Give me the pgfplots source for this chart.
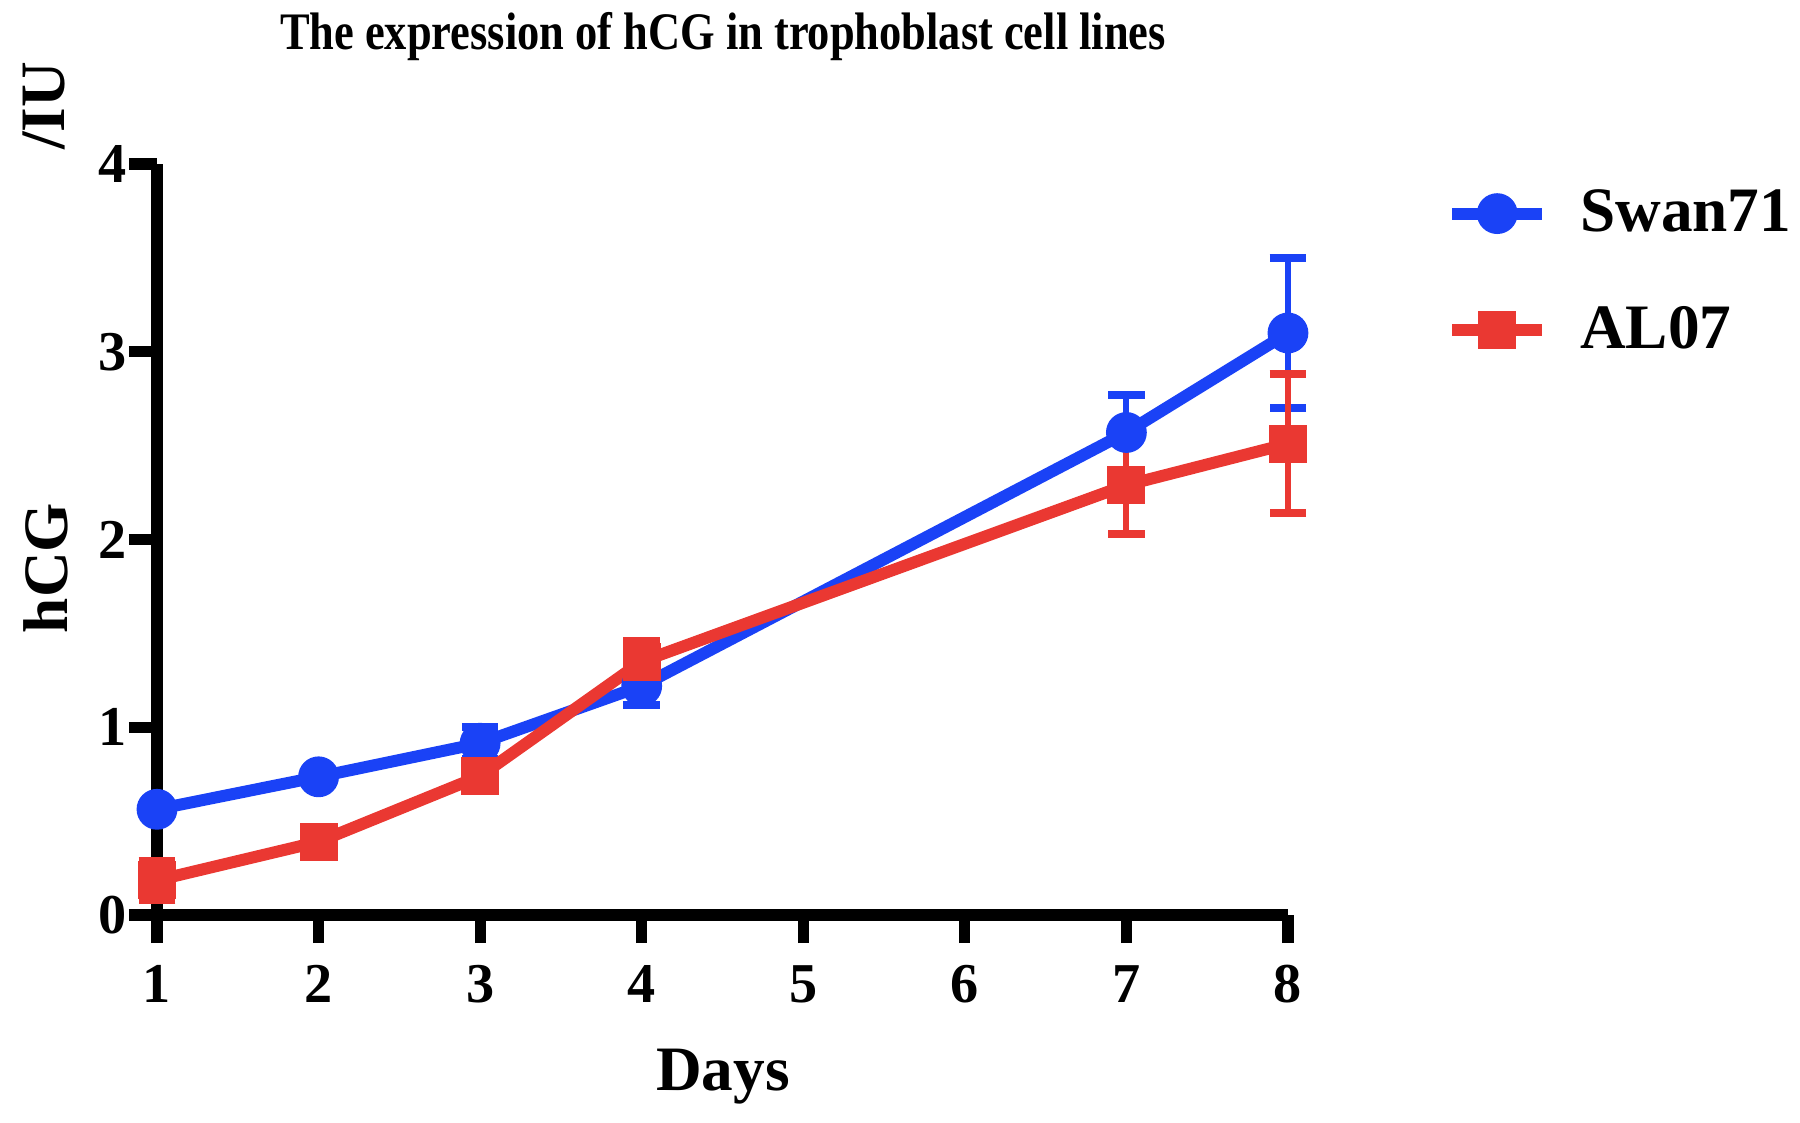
\documentclass[border=0pt]{standalone}
\usepackage{pgfplots}
\pgfplotsset{compat=1.18}
\usepackage{fontspec}
\setmainfont{Liberation Serif}
\usepackage{graphicx}
\definecolor{cblue}{RGB}{26,66,246}
\definecolor{cred}{RGB}{234,56,50}
\begin{document}
\begin{tikzpicture}
\path[use as bounding box] (-1.57cm,-2.07cm) rectangle (16.43cm,9.15cm);
\begin{axis}[
  scale only axis,
  width=11.31cm, height=7.51cm,
  xmin=1, xmax=8, ymin=0, ymax=4,
  axis x line*=bottom, axis y line*=left,
  axis line style={line width=3.2pt, -},
  xtick={1,2,3,4,5,6,7,8},
  ytick={0,1,2,3,4},
  tick style={line width=3.2pt, black},
  tick align=outside,
  major tick length=2.8mm,
  /pgf/number format/assume math mode=true,
  tick label style={font=\bfseries\fontsize{16}{16}\selectfont},
  xticklabel style={yshift=-1mm},
  yticklabel style={xshift=1mm},
  clip=false,
  legend style={at={(1.13,0.985)}, anchor=north west, draw=none, fill=none,
    font=\bfseries\fontsize{18}{18}\selectfont, row sep=5.5mm,
    /tikz/every odd column/.append style={column sep=2.5mm}},
  legend cell align=left,
  legend image code/.code={\draw[mark repeat=2,mark phase=2] plot coordinates {(0cm,0cm) (0.45cm,0cm) (0.9cm,0cm)};},
]
\addplot[cblue, line width=3.4pt, mark=*, mark size=4.1pt,
  mark options={solid},
  error bars/.cd, y dir=both, y explicit,
  error bar style={line width=1.7pt, cblue},
  error mark options={rotate=90, line width=2.3pt, mark size=5.2pt, cblue}]
  coordinates {
  (1,0.563) +- (0,0.015)
  (2,0.736) +- (0,0.015)
  (3,0.915) +- (0,0.085)
  (4,1.22) +- (0,0.10)
  (7,2.57) +- (0,0.20)
  (8,3.10) +- (0,0.40)
  };
\addplot[cred, line width=3.4pt, mark=square*, mark size=3.7pt,
  mark options={solid},
  error bars/.cd, y dir=both, y explicit,
  error bar style={line width=1.7pt, cred},
  error mark options={rotate=90, line width=2.3pt, mark size=5.2pt, cred}]
  coordinates {
  (1,0.185) +- (0,0.105)
  (2,0.39) +- (0,0.02)
  (3,0.74) +- (0,0.03)
  (4,1.35) +- (0,0.11)
  (7,2.29) +- (0,0.26)
  (8,2.51) +- (0,0.37)
  };
\legend{Swan71,AL07}
\end{axis}
\node[font=\bfseries\fontsize{15}{15}\selectfont] at (5.66cm,8.78cm) {\resizebox{88.6mm}{\height}{The expression of hCG in trophoblast cell lines}};
\node[font=\bfseries\fontsize{18}{18}\selectfont] at (5.66cm,-1.62cm) {Days};
\node[font=\bfseries\fontsize{18}{18}\selectfont, rotate=90] at (-1.11cm,3.47cm) {hCG};
\node[font=\bfseries\fontsize{18}{18}\selectfont, rotate=90] at (-1.13cm,8.09cm) {/IU};
\end{tikzpicture}
\end{document}
